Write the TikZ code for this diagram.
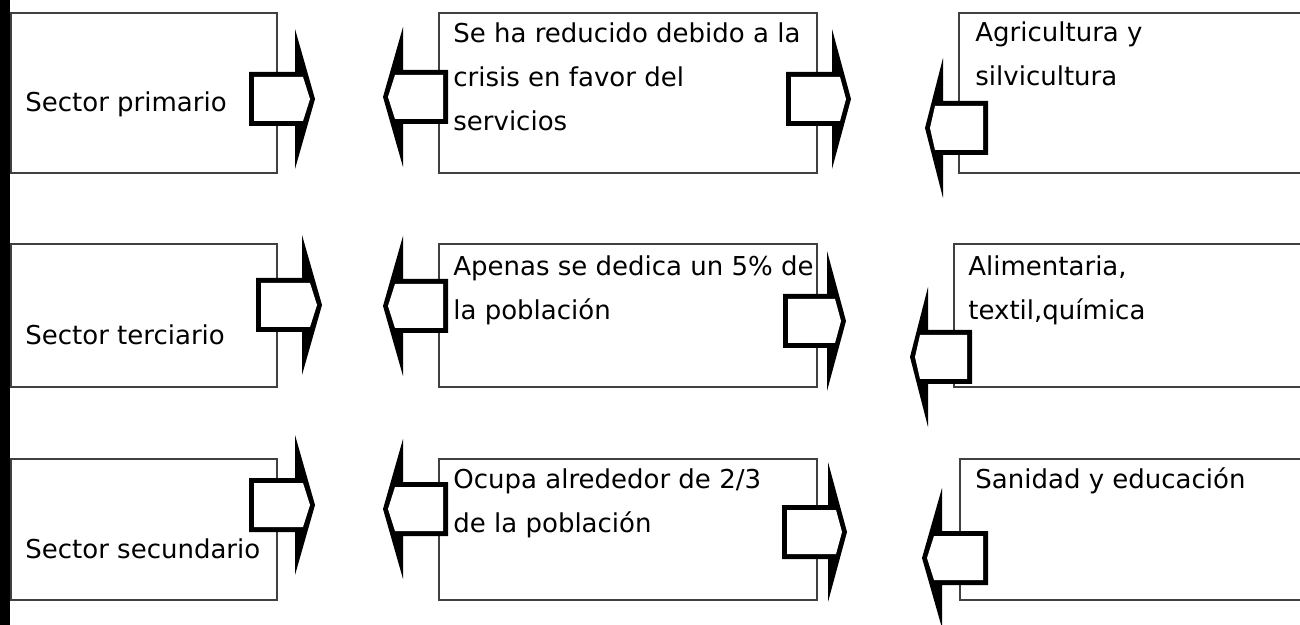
\documentclass[tikz,border=0pt]{standalone}
\usepackage{fontspec}
\setmainfont{DejaVu Sans}
\usetikzlibrary{positioning}

% block arrow: tail x, head back x, tip x, centre y
\newcommand{\flecha}[4]{%
  \pgfmathsetmacro{\dir}{sign(#3-#1)}%
  \fill[black] (#1,#4-27) -- (#2,#4-27) -- (#2,#4-70) -- (#3,#4) -- (#2,#4+70) -- (#2,#4+27) -- (#1,#4+27) -- cycle;
  \fill[white] ({#1+5*\dir},#4-22) -- ({#2+8*\dir},#4-22) -- ({#3-5*\dir},#4) -- ({#2+8*\dir},#4+22) -- ({#1+5*\dir},#4+22) -- cycle;}

\begin{document}
\begin{tikzpicture}[x=0.5pt,y=-0.5pt,font=\fontsize{13}{22}\selectfont]
                \tikzstyle{sectorbox}=[draw=black!75,line width=0.8pt,anchor=north west,inner sep=0pt]
                \tikzstyle{boxtext}=[anchor=base west,align=left,inner sep=0pt]

                \useasboundingbox (0,0) rectangle (1300,625);
                \fill[black] (0,0) rectangle (10,625);

                % boxes
                \node[sectorbox,minimum width=133pt,minimum height=80pt] (prim) at (10,12) {};
                \node[sectorbox,minimum width=189pt,minimum height=80pt] (prim-info) at (438,12) {};
                \node[sectorbox,minimum width=176pt,minimum height=80pt] (prim-act) at (958,12) {};
                \node[sectorbox,minimum width=133pt,minimum height=71.5pt] (terc) at (10,243) {};
                \node[sectorbox,minimum width=189pt,minimum height=71.5pt] (terc-info) at (438,243) {};
                \node[sectorbox,minimum width=178.5pt,minimum height=71.5pt] (terc-act) at (953,243) {};
                \node[sectorbox,minimum width=133pt,minimum height=70.5pt] (secu) at (10,458) {};
                \node[sectorbox,minimum width=189pt,minimum height=70.5pt] (secu-info) at (438,458) {};
                \node[sectorbox,minimum width=175.5pt,minimum height=70.5pt] (secu-act) at (959,458) {};

                % arrows
                \flecha{249}{295}{315}{99}
                \flecha{448}{403}{383}{97}
                \flecha{786}{832}{851}{99}
                \flecha{988}{943}{925}{128}
                \flecha{256}{302}{322}{305}
                \flecha{448}{403}{383}{306}
                \flecha{783}{827}{846}{321}
                \flecha{972}{928}{910}{357}
                \flecha{249}{295}{315}{505}
                \flecha{448}{403}{383}{509}
                \flecha{782}{828}{847}{532}
                \flecha{988}{942}{922}{558}

                % texts (anchored at the last baseline)
                \node[boxtext] (prim-txt) at (25,112) {Sector primario};
                \node[boxtext] (prim-info-txt) at (453,131) {Se ha reducido debido a la\\crisis en favor del\\servicios};
                \node[boxtext] (prim-act-txt) at (975,86) {Agricultura y\\silvicultura};
                \node[boxtext] (terc-txt) at (25,345) {Sector terciario};
                \node[boxtext] (terc-info-txt) at (453,320) {Apenas se dedica un 5\% de\\la población};
                \node[boxtext] (terc-act-txt) at (968,320) {Alimentaria,\\textil,química};
                \node[boxtext] (secu-txt) at (25,558) {Sector secundario};
                \node[boxtext] (secu-info-txt) at (453,532) {Ocupa alrededor de 2/3\\de la población};
                \node[boxtext] (secu-act-txt) at (975,488) {Sanidad y educación};
\end{tikzpicture}
\end{document}
